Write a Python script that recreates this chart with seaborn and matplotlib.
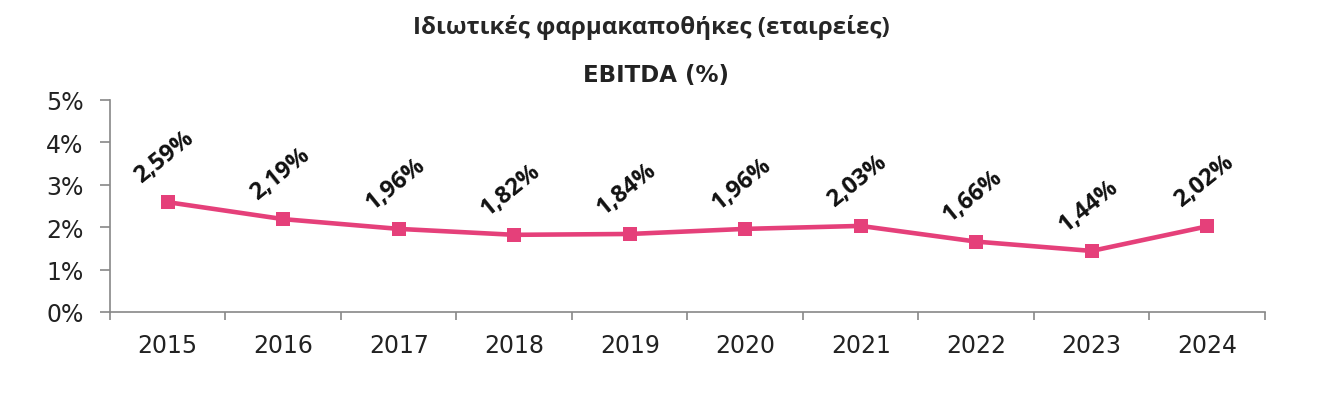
import matplotlib
matplotlib.use("Agg")
import matplotlib.pyplot as plt
from matplotlib.ticker import FixedLocator, FuncFormatter
import pandas as pd
import seaborn as sns

years = [2015, 2016, 2017, 2018, 2019, 2020, 2021, 2022, 2023, 2024]
ebitda = [2.59, 2.19, 1.96, 1.82, 1.84, 1.96, 2.03, 1.66, 1.44, 2.02]
value_labels = ["2,59%", "2,19%", "1,96%", "1,82%", "1,84%",
                "1,96%", "2,03%", "1,66%", "1,44%", "2,02%"]
title = "Ιδιωτικές φαρμακαποθήκες (εταιρείες)"
subtitle = "EBITDA (%)"

PINK = "#E5407A"

sns.set_style("white")
plt.rcParams['font.family'] = ['DejaVu Sans']

df = pd.DataFrame({'pos': range(len(years)), 'ebitda': ebitda})

fig = plt.figure(figsize=(13.44, 4.10), dpi=100)
ax = fig.add_axes([0.0818, 0.2366, 0.8594, 0.5171])

sns.lineplot(data=df, x='pos', y='ebitda', ax=ax, color=PINK, linewidth=3.3,
             marker='s', markersize=10, markeredgewidth=0)

for i, txt in enumerate(value_labels):
    ax.annotate(txt, (i, ebitda[i]), xytext=(-19, 14), textcoords='offset points',
                rotation=39, ha='left', va='baseline', fontsize=17, fontweight='bold',
                family=['Open Sans', 'DejaVu Sans'], color='#111111',
                rotation_mode='anchor')

ax.set_xlim(-0.5, len(years) - 0.5)
ax.set_ylim(0, 5)
ax.set_yticks(range(0, 6))
ax.yaxis.set_major_formatter(FuncFormatter(lambda v, p: f"{int(v)}%"))

# boundaries as major ticks, category centres as labelled minor ticks
ax.xaxis.set_major_locator(FixedLocator([i - 0.5 for i in range(len(years) + 1)]))
ax.xaxis.set_minor_locator(FixedLocator(list(range(len(years)))))
ax.set_xticklabels([])
ax.set_xticklabels([str(y) for y in years], minor=True)
ax.tick_params(axis='x', which='major', bottom=True, length=6, width=1.2,
               color='#888888', direction='out')
ax.tick_params(axis='x', which='minor', bottom=True, length=0, pad=15,
               labelsize=17, labelcolor='#222222')
ax.tick_params(axis='y', left=True, length=7, width=1.2, color='#888888',
               direction='out', pad=12, labelsize=17, labelcolor='#222222')

for s in ['top', 'right']:
    ax.spines[s].set_visible(False)
for s in ['left', 'bottom']:
    ax.spines[s].set_color('#888888')
    ax.spines[s].set_linewidth(1.2)

ax.set_xlabel('')
ax.set_ylabel('')

fig.text(0.485, 0.934, title, ha='center', va='center', fontsize=17.4, fontweight='bold',
         family=['Open Sans', 'DejaVu Sans'])
fig.text(0.488, 0.817, subtitle, ha='center', va='center', fontsize=16.5, fontweight='bold',
         color='#222222')

fig.savefig('out.png', dpi=100)
